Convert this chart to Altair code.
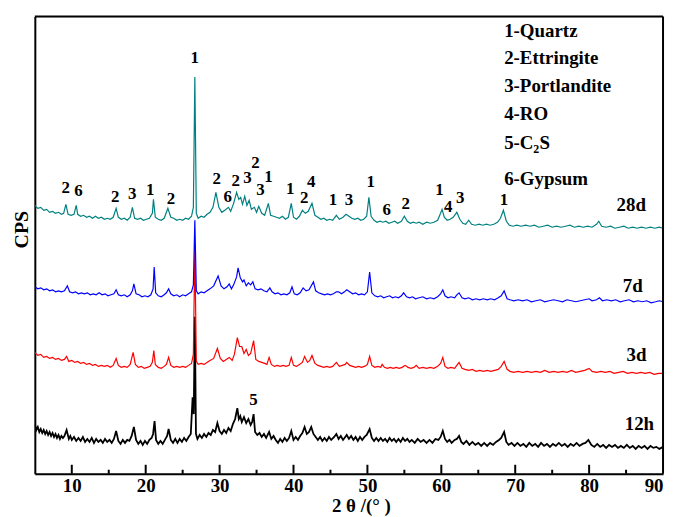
import altair as alt
import pandas as pd

# ---------------- data (2θ in degrees, intensity in arbitrary offset units) ----------------
two_theta_ticks = [10, 20, 30, 40, 50, 60, 70, 80, 90]
minor_ticks = [15, 25, 35, 45, 55, 65, 75, 85]

series_names = ["12h", "3d", "7d", "28d"]
series_colors = ["#000000", "#ff0000", "#0000ff", "#008080"]

xrd_28d = [(5.0,270),(5.4,267),(5.8,268),(6.2,265),(6.6,266),(7.0,263),(7.4,264),(7.8,262),(8.2,263),(8.6,261),
    (8.9,262),(9.2,271),(9.5,261),(9.9,260),(10.3,261),(10.6,270),(10.8,261),(11.2,259),(11.6,260),(12.0,258),
    (12.4,259),(12.8,257),(13.2,259),(13.6,257),(14.0,258),(14.4,256),(14.8,257),(15.2,256),(15.6,258),(16.0,267),
    (16.3,258),(16.7,256),(17.1,257),(17.5,255),(17.9,258),(18.2,268),(18.5,257),(18.9,256),(19.3,257),(19.7,255),
    (20.1,256),(20.5,257),(20.9,262),(21.05,276),(21.3,258),(21.7,256),(22.1,255),(22.5,257),(23.0,267),(23.4,258),
    (23.8,257),(24.2,255),(24.6,256),(25.0,255),(25.4,257),(25.8,256),(26.2,259),(26.45,268),(26.65,399),(26.85,262),
    (27.1,257),(27.5,259),(27.9,258),(28.3,261),(28.7,263),(29.1,268),(29.5,283),(29.9,268),(30.3,263),(30.7,265),
    (31.2,268),(31.5,264),(31.9,272),(32.3,283),(32.6,276),(32.85,278),(33.1,271),(33.4,279),(33.7,270),(34.0,275),
    (34.3,266),(34.7,268),(35.0,263),(35.3,269),(35.7,262),(36.1,260),(36.6,272),(36.9,260),(37.3,259),(37.7,258),
    (38.1,257),(38.5,259),(38.9,256),(39.3,258),(39.7,272),(40.0,258),(40.4,256),(40.8,259),(41.2,265),(41.6,262),
    (42.0,264),(42.5,272),(42.9,260),(43.3,258),(43.7,256),(44.1,257),(44.5,255),(44.9,256),(45.3,255),(45.8,260),
    (46.2,256),(46.7,258),(47.1,261),(47.5,259),(47.9,257),(48.3,256),(48.7,257),(49.1,255),(49.5,256),(49.9,259),
    (50.2,278),(50.5,259),(50.9,255),(51.3,253),(51.7,254),(52.1,253),(52.5,254),(52.9,252),(53.3,253),(53.7,254),
    (54.1,252),(54.6,254),(55.0,259),(55.4,254),(55.8,252),(56.2,253),(56.6,252),(57.0,253),(57.5,251),(58.0,253),
    (58.5,252),(59.0,253),(59.5,255),(59.9,262),(60.1,266),(60.4,258),(60.8,255),(61.2,256),(61.6,258),(62.1,263),
    (62.5,256),(62.9,252),(63.3,251),(63.7,255),(64.1,251),(64.6,250),(65.1,251),(65.6,250),(66.1,251),(66.6,250),
    (67.1,251),(67.6,253),(68.0,257),(68.4,265),(68.8,254),(69.2,250),(69.7,249),(70.2,250),(70.8,249),(71.4,250),
    (72.0,249),(72.6,250),(73.2,248),(73.8,249),(74.4,250),(75.0,248),(75.6,249),(76.2,248),(76.8,249),(77.4,250),
    (78.0,248),(78.6,249),(79.2,248),(79.8,249),(80.4,248),(81.0,251),(81.3,254),(81.7,249),(82.3,248),(82.9,249),
    (83.5,247),(84.1,248),(84.7,249),(85.3,247),(85.9,248),(86.5,247),(87.1,248),(87.7,247),(88.3,248),(88.9,247),
    (89.5,248),(90.0,247)]

xrd_7d = [(5.0,188),(5.4,186),(5.8,187),(6.2,185),(6.6,186),(7.0,184),(7.4,185),(7.8,183),(8.2,184),(8.6,183),
    (9.0,184),(9.4,189),(9.7,183),(10.1,182),(10.5,183),(10.9,181),(11.3,182),(11.7,181),(12.1,182),(12.5,180),
    (12.9,181),(13.3,180),(13.7,182),(14.1,180),(14.5,181),(14.9,179),(15.3,180),(15.7,181),(16.0,185),(16.3,180),
    (16.7,179),(17.1,180),(17.5,178),(17.9,180),(18.2,184),(18.4,191),(18.7,181),(19.1,180),(19.5,178),(19.9,179),
    (20.3,178),(20.7,180),(21.0,186),(21.15,208),(21.35,182),(21.7,179),(22.1,178),(22.5,180),(22.8,182),(23.1,186),
    (23.4,181),(23.8,179),(24.2,180),(24.6,178),(25.0,180),(25.4,179),(25.8,181),(26.2,183),(26.45,190),(26.65,255),
    (26.85,184),(27.1,181),(27.5,183),(27.9,182),(28.3,184),(28.7,186),(29.2,189),(29.8,199),(30.2,189),(30.6,186),
    (31.0,188),(31.3,191),(31.6,186),(31.9,190),(32.3,198),(32.5,207),(32.8,197),(33.1,193),(33.3,195),(33.6,189),
    (33.9,192),(34.2,190),(34.5,193),(34.8,186),(35.2,185),(35.6,186),(36.0,184),(36.4,183),(36.8,187),(37.1,183),
    (37.5,181),(37.9,182),(38.3,180),(38.7,181),(39.1,180),(39.5,182),(39.8,188),(40.1,181),(40.5,180),(40.9,182),
    (41.3,187),(41.7,184),(42.1,185),(42.7,193),(43.0,184),(43.4,182),(43.8,181),(44.2,180),(44.6,181),(45.0,180),
    (45.4,181),(45.8,183),(46.1,183),(46.5,181),(46.9,183),(47.2,185),(47.6,183),(48.0,181),(48.4,182),(48.8,180),
    (49.2,181),(49.6,180),(50.0,183),(50.3,203),(50.6,182),(51.0,179),(51.4,178),(51.8,179),(52.2,177),(52.6,178),
    (53.0,179),(53.4,177),(53.8,178),(54.2,177),(54.6,179),(54.9,182),(55.3,178),(55.7,177),(56.1,178),(56.5,176),
    (57.0,177),(57.5,178),(58.0,176),(58.5,177),(59.0,176),(59.5,178),(59.9,181),(60.2,185),(60.5,179),(60.9,177),
    (61.3,178),(61.8,177),(62.1,180),(62.4,182),(62.8,177),(63.2,176),(63.7,177),(64.2,175),(64.7,176),(65.2,175),
    (65.7,176),(66.2,175),(66.7,176),(67.2,175),(67.7,177),(68.1,179),(68.5,184),(68.9,176),(69.3,175),(69.8,174),
    (70.4,175),(71.0,174),(71.6,175),(72.2,173),(72.8,174),(73.4,175),(74.0,173),(74.6,174),(75.2,175),(75.8,174),
    (76.4,173),(77.0,175),(77.6,174),(78.2,173),(78.8,174),(79.4,175),(80.0,176),(80.4,174),(81.0,175),(81.4,177),
    (81.8,174),(82.4,175),(83.0,174),(83.6,175),(84.2,173),(84.8,174),(85.4,175),(86.0,173),(86.6,174),(87.2,173),
    (87.8,174),(88.4,172),(89.0,173),(89.5,174),(90.0,173)]

xrd_3d = [(5.0,122),(5.4,119),(5.8,120),(6.2,117),(6.6,118),(7.0,116),(7.4,117),(7.8,115),(8.2,116),(8.6,114),
    (9.0,115),(9.3,118),(9.6,113),(10.0,114),(10.4,112),(10.8,113),(11.2,111),(11.6,112),(12.0,110),(12.4,111),
    (12.8,109),(13.2,110),(13.6,108),(14.0,109),(14.4,108),(14.8,109),(15.2,107),(15.6,109),(16.0,116),(16.3,109),
    (16.7,107),(17.1,108),(17.5,107),(17.9,110),(18.3,122),(18.6,110),(19.0,107),(19.4,108),(19.8,106),(20.2,107),
    (20.6,108),(20.9,112),(21.1,124),(21.3,110),(21.7,107),(22.1,106),(22.5,108),(22.8,110),(23.1,117),(23.4,109),
    (23.8,107),(24.2,108),(24.6,107),(25.0,108),(25.4,107),(25.8,109),(26.2,111),(26.45,120),(26.65,228),(26.85,113),
    (27.1,110),(27.5,111),(27.9,110),(28.3,112),(28.7,114),(29.2,116),(29.7,126),(30.1,116),(30.5,113),(30.9,115),
    (31.3,117),(31.7,114),(32.0,120),(32.4,137),(32.7,128),(33.0,128),(33.3,121),(33.6,125),(33.9,119),(34.2,121),
    (34.6,134),(34.9,115),(35.3,113),(35.7,112),(36.1,111),(36.4,110),(36.7,117),(37.0,110),(37.4,108),(37.8,109),
    (38.2,108),(38.6,109),(39.0,108),(39.4,109),(39.7,117),(40.0,109),(40.4,108),(40.8,110),(41.2,112),(41.5,118),
    (41.9,112),(42.2,114),(42.5,119),(42.9,111),(43.3,109),(43.7,108),(44.1,107),(44.5,108),(44.9,107),(45.3,108),
    (45.8,112),(46.2,108),(46.6,109),(47.0,110),(47.2,112),(47.6,109),(48.0,108),(48.4,107),(48.8,108),(49.2,107),
    (49.6,108),(50.0,110),(50.3,118),(50.6,109),(51.0,107),(51.4,108),(51.8,107),(52.0,110),(52.3,107),(52.7,106),
    (53.1,107),(53.5,106),(53.9,107),(54.3,106),(54.7,107),(55.1,109),(55.5,107),(55.9,106),(56.3,107),(56.6,109),
    (57.0,106),(57.5,107),(58.0,106),(58.5,107),(59.0,106),(59.5,108),(59.9,111),(60.2,117),(60.5,108),(60.9,106),
    (61.3,107),(61.8,106),(62.1,109),(62.4,112),(62.8,106),(63.2,105),(63.7,104),(64.2,105),(64.7,103),(65.2,104),
    (65.7,103),(66.2,104),(66.7,103),(67.2,104),(67.7,105),(68.1,108),(68.5,113),(68.9,105),(69.3,103),(69.8,102),
    (70.4,103),(71.0,102),(71.6,103),(72.2,102),(72.8,103),(73.4,102),(74.0,104),(74.6,102),(75.2,103),(75.8,102),
    (76.4,103),(77.0,102),(77.6,104),(78.2,102),(78.8,103),(79.4,104),(80.0,106),(80.4,103),(81.0,102),(81.6,103),
    (82.2,102),(82.8,103),(83.4,101),(84.0,102),(84.6,103),(85.2,101),(85.8,102),(86.4,101),(87.0,102),(87.6,101),
    (88.2,102),(88.8,100),(89.4,101),(90.0,101)]

xrd_12h = [(5.0,50),(5.2,44),(5.4,47),(5.6,42),(5.8,45),(6.0,41),(6.2,44),(6.4,40),(6.6,43),(6.8,39),(7.0,42),
    (7.2,38),(7.4,41),(7.6,37),(7.8,40),(8.0,36),(8.2,39),(8.4,35),(8.6,38),(8.8,36),(9.0,38),(9.3,44),(9.6,35),
    (9.8,38),(10.0,34),(10.3,37),(10.6,33),(10.9,36),(11.2,33),(11.5,37),(11.8,32),(12.1,35),(12.4,32),(12.7,36),
    (13.0,31),(13.3,35),(13.6,32),(13.9,34),(14.2,31),(14.5,35),(14.8,32),(15.1,34),(15.4,31),(15.7,35),(16.0,43),
    (16.3,33),(16.6,30),(16.9,34),(17.2,31),(17.5,34),(17.8,33),(18.1,38),(18.4,47),(18.7,34),(19.0,30),(19.3,33),
    (19.6,29),(19.9,33),(20.2,30),(20.5,34),(20.8,36),(21.0,40),(21.2,53),(21.4,34),(21.7,30),(22.0,33),(22.3,30),
    (22.6,34),(22.9,38),(23.1,45),(23.4,34),(23.7,31),(24.0,35),(24.3,31),(24.6,35),(24.9,32),(25.2,36),(25.5,33),
    (25.8,37),(26.1,40),(26.35,77),(26.5,60),(26.65,158),(26.8,40),(27.0,35),(27.3,39),(27.6,36),(27.9,40),(28.2,37),
    (28.5,41),(28.8,39),(29.1,44),(29.4,42),(29.7,51),(30.0,43),(30.3,40),(30.6,44),(30.9,41),(31.2,46),(31.5,43),
    (31.8,50),(32.1,55),(32.4,66),(32.6,55),(32.8,58),(33.0,52),(33.3,57),(33.6,51),(33.9,55),(34.2,49),(34.4,52),
    (34.6,60),(34.8,42),(35.1,39),(35.4,41),(35.7,37),(36.0,40),(36.3,36),(36.7,42),(37.0,35),(37.3,38),(37.6,34),
    (37.9,31),(38.2,35),(38.5,32),(38.8,36),(39.1,33),(39.4,36),(39.7,43),(40.0,34),(40.3,37),(40.6,34),(40.9,38),
    (41.2,41),(41.5,47),(41.8,40),(42.1,42),(42.4,47),(42.7,40),(43.0,37),(43.3,34),(43.6,37),(43.9,33),(44.2,36),
    (44.5,33),(44.8,37),(45.1,34),(45.5,37),(45.8,40),(46.1,35),(46.4,38),(46.7,34),(47.0,37),(47.2,39),(47.5,35),
    (47.8,38),(48.1,34),(48.4,37),(48.7,33),(49.0,37),(49.3,34),(49.6,37),(49.9,39),(50.3,45),(50.6,36),(50.9,33),
    (51.2,36),(51.5,33),(51.8,36),(52.1,33),(52.4,35),(52.7,32),(53.0,36),(53.3,33),(53.6,35),(53.9,32),(54.2,35),
    (54.5,32),(54.8,36),(55.1,33),(55.4,35),(55.7,32),(56.0,34),(56.4,31),(56.8,35),(57.2,32),(57.6,34),(58.0,31),
    (58.4,34),(58.8,31),(59.2,35),(59.6,34),(59.9,37),(60.2,43),(60.5,35),(60.8,32),(61.1,34),(61.4,31),(61.8,34),
    (62.1,35),(62.4,38),(62.7,32),(63.0,30),(63.4,33),(63.8,29),(64.2,32),(64.6,29),(65.0,31),(65.4,28),(65.8,31),
    (66.2,28),(66.6,31),(67.0,29),(67.4,32),(67.8,34),(68.1,36),(68.5,42),(68.8,32),(69.1,29),(69.5,31),(69.9,28),
    (70.3,31),(70.7,28),(71.1,30),(71.5,27),(71.9,31),(72.3,28),(72.7,30),(73.1,27),(73.5,31),(73.9,28),(74.3,30),
    (74.7,27),(75.1,30),(75.5,28),(75.9,31),(76.3,28),(76.7,30),(77.1,27),(77.5,30),(77.9,28),(78.3,31),(78.7,28),
    (79.1,30),(79.5,31),(79.9,34),(80.3,29),(80.7,27),(81.1,30),(81.5,27),(81.9,29),(82.3,26),(82.7,29),(83.1,27),
    (83.5,29),(83.9,26),(84.3,28),(84.7,26),(85.1,29),(85.5,26),(85.9,28),(86.3,25),(86.7,28),(87.1,26),(87.5,28),
    (87.9,25),(88.3,28),(88.7,26),(89.1,27),(89.5,25),(90.0,27)]

# peak labels: (2θ, height, text)
peak_labels = [(9.17,287,"2"),(10.92,284,"6"),(15.89,278,"2"),(18.18,281,"3"),(20.6,285,"1"),(23.43,276,"2"),
    (26.65,418,"1"),(29.61,296,"2"),(31.09,278,"6"),(32.17,294,"2"),(33.78,297,"3"),(34.86,313,"2"),
    (35.53,285,"3"),(36.61,298,"1"),(39.57,286,"1"),(41.45,277,"2"),(42.39,293,"4"),(45.35,275,"1"),
    (47.5,275,"3"),(50.46,293,"1"),(52.61,265,"6"),(55.17,271,"2"),(59.74,285,"1"),(60.95,268,"4"),
    (62.57,277,"3"),(68.48,275,"1"),(34.59,74,"5")]

# sample labels
sample_labels = [(85.7,270,"28d"),(85.9,189,"7d"),(86.4,119,"3d"),(86.8,50,"12h")]

# phase key text (left aligned)
key_x = 68.5
key_lines = [(445,"1-Quartz"),(418,"2-Ettringite"),(390,"3-Portlandite"),(362,"4-RO"),(296,"6-Gypsum")]
c2s_parts = [(68.5,333,"5-C",19,"left"),(72.45,327,"2",12,"left"),(73.3,333,"S",19,"left")]

# ---------------- chart ----------------
FONT = "Liberation Serif"
W, H = 632, 460
xs = alt.Scale(domain=[5, 90], nice=False, zero=False)
ys = alt.Scale(domain=[0, 460], nice=False, zero=False)

x_axis = alt.Axis(values=two_theta_ticks, title="2 θ /(°   )", labelFont=FONT, labelFontSize=19,
                  labelFontWeight="bold", labelColor="black", labelPadding=3, ticks=False, tickSize=0,
                  grid=False, domainColor="black", domainWidth=2, titleFont=FONT, titleFontSize=19,
                  titleFontWeight="bold", titleColor="black", titleX=328, titleY=32,
                  titleBaseline="middle", titleAlign="center")
y_axis = alt.Axis(title="CPS", labels=False, ticks=False, tickSize=0, grid=False, domainColor="black",
                  domainWidth=2, titleFont=FONT, titleFontSize=20, titleFontWeight="bold",
                  titleColor="black", titleX=-13, titleY=214, titleAlign="center", titleBaseline="middle",
                  titleAngle=270)

layers = []
for name, color, pts in zip(series_names, series_colors, [xrd_12h, xrd_3d, xrd_7d, xrd_28d]):
    df = pd.DataFrame(pts, columns=["t", "v"])
    sw = 1.8 if name == "12h" else 1.2
    enc = dict(x=alt.X("t:Q", scale=xs, axis=x_axis), y=alt.Y("v:Q", scale=ys, axis=y_axis))
    layers.append(alt.Chart(df).mark_line(color=color, strokeWidth=sw, clip=True).encode(**enc))

major_df = pd.DataFrame({"t": two_theta_ticks[:-1]})
minor_df = pd.DataFrame({"t": minor_ticks})
layers.append(alt.Chart(major_df).mark_rule(color="black", strokeWidth=2).encode(
    x=alt.X("t:Q", scale=xs), y=alt.value(H), y2=alt.value(H - 9)))
layers.append(alt.Chart(minor_df).mark_rule(color="black", strokeWidth=2).encode(
    x=alt.X("t:Q", scale=xs), y=alt.value(H), y2=alt.value(H - 4)))

# frame (top and right edges)
layers.append(alt.Chart(pd.DataFrame({"k": [0]})).mark_rule(color="black", strokeWidth=2).encode(
    x=alt.value(0), x2=alt.value(W), y=alt.value(0)))
layers.append(alt.Chart(pd.DataFrame({"k": [0]})).mark_rule(color="black", strokeWidth=2).encode(
    x=alt.value(W), y=alt.value(0), y2=alt.value(H)))

pk = pd.DataFrame(peak_labels, columns=["t", "v", "s"])
layers.append(alt.Chart(pk).mark_text(font=FONT, fontSize=17, fontWeight="bold", color="black",
                                      baseline="middle", align="center").encode(
    x=alt.X("t:Q", scale=xs), y=alt.Y("v:Q", scale=ys), text="s:N"))

sl = pd.DataFrame(sample_labels, columns=["t", "v", "s"])
layers.append(alt.Chart(sl).mark_text(font=FONT, fontSize=19, fontWeight="bold", color="black",
                                      baseline="middle", align="center").encode(
    x=alt.X("t:Q", scale=xs), y=alt.Y("v:Q", scale=ys), text="s:N"))

kl = pd.DataFrame([(key_x, v, s) for v, s in key_lines], columns=["t", "v", "s"])
layers.append(alt.Chart(kl).mark_text(font=FONT, fontSize=19, fontWeight="bold", color="black",
                                      baseline="middle", align="left").encode(
    x=alt.X("t:Q", scale=xs), y=alt.Y("v:Q", scale=ys), text="s:N"))

for t, v, s, fs, al in c2s_parts:
    d = pd.DataFrame([(t, v, s)], columns=["t", "v", "s"])
    layers.append(alt.Chart(d).mark_text(font=FONT, fontSize=fs, fontWeight="bold", color="black",
                                         baseline="middle", align=al).encode(
        x=alt.X("t:Q", scale=xs), y=alt.Y("v:Q", scale=ys), text="s:N"))

chart = alt.layer(*layers).properties(
    width=W, height=H,
    autosize=alt.AutoSizeParams(type="none"),
    padding={"left": 27, "top": 7, "right": 5, "bottom": 42},
).configure_view(stroke="black", strokeWidth=2).configure(background="white")

chart.save("out.html", embed_options={"renderer": "svg", "actions": False})
